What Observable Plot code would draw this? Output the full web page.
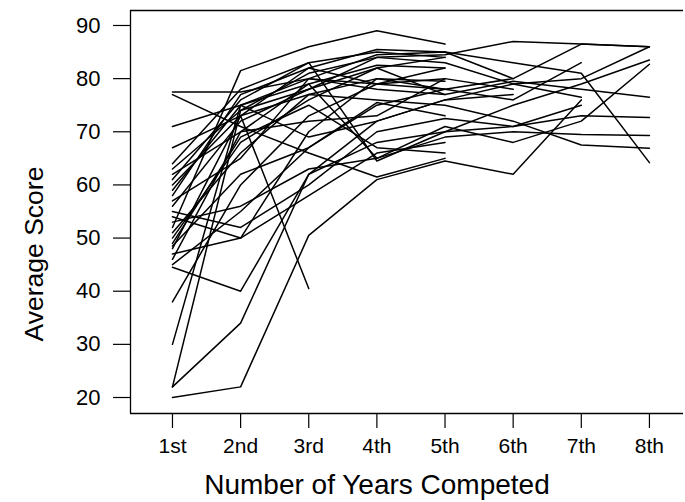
<!DOCTYPE html>
<html>
<head>
<meta charset="utf-8">
<script src="https://cdn.jsdelivr.net/npm/d3@7"></script>
<script src="https://cdn.jsdelivr.net/npm/@observablehq/plot@0.6"></script>
<style>
  html, body { margin: 0; padding: 0; background: #fff; }
  #chart svg { display: block; }
</style>
</head>
<body>
<div id="chart"></div>
<script>
// Tick labels
const yearLabels = ["1st", "2nd", "3rd", "4th", "5th", "6th", "7th", "8th"];
const scoreTicks = [20, 30, 40, 50, 60, 70, 80, 90];

// Average score per competitor, one list per competitor, by year competed
const scores = [
  [20, 22, 50.5, 61, 64.5, 62, 76],
  [22, 34, 62, 72, 76, 79, 80, 86],
  [22, 74, 78, 82, 77],
  [30, 75, 80, 84.5, 85, 83, 81, 64.2],
  [38, 60, 73, 79, 82],
  [44.5, 40, 62, 68, 70, 71, 73, 72.7],
  [45, 55, 67, 75, 78, 80, 86.5, 86],
  [47, 50, 70, 80, 78],
  [48, 73, 40.5],
  [49, 69, 75, 67, 66],
  [50, 68, 76, 82, 84],
  [52, 81.5, 86, 89, 86.5],
  [53, 56, 63, 65, 69, 70, 69.5, 69.3],
  [55, 52, 60, 70, 72.5, 71, 75],
  [56, 72, 78, 84, 84.5, 87, 86.5, 86],
  [57, 65, 80, 78, 77, 79.5, 78, 76.5],
  [59, 75, 79, 65, 71, 68, 72, 82.7],
  [60, 73, 82, 79, 78, 76, 83],
  [61, 76, 83, 64.5, 70, 75, 79, 83.5],
  [62, 70, 72, 73, 80, 78],
  [64, 78, 83, 85, 84],
  [67, 73, 77, 76, 75, 72, 67.5, 66.9],
  [71, 75, 69, 72, 76, 77],
  [77.5, 77.5, 80, 79, 80],
  [77, 71, 66, 61.5, 65],
  [48.5, 62, 67, 75.5, 73],
  [54, 50, 58, 66, 68],
  [58, 77, 82, 85.5, 85, 80],
  [63, 74, 81, 84, 83, 79, 76.5],
  [51, 66, 77, 80, 79.5],
  [46, 70, 79, 82.5, 82]
];

const rows = scores.flatMap((s, i) => s.map((v, j) => ({athlete: i, year: j + 1, score: v})));

const xDomain = [0.384, 8.5];
const yDomain = [16.99, 92.82];
const font = "Liberation Sans, Arial, Helvetica, sans-serif";

const chart = Plot.plot({
  width: 685,
  height: 502,
  marginLeft: 130,
  marginRight: 2,
  marginTop: 10,
  marginBottom: 89,
  style: {fontFamily: font, background: "#fff", color: "#000"},
  x: {domain: xDomain},
  y: {domain: yDomain},
  marks: [
    Plot.line(rows, {x: "year", y: "score", z: "athlete", stroke: "#000", strokeWidth: 1.5, curve: "linear"}),
    Plot.ruleY([yDomain[0], yDomain[1]], {stroke: "#000", strokeWidth: 1.3}),
    Plot.ruleX([xDomain[0]], {stroke: "#000", strokeWidth: 1.3}),
    Plot.axisY(scoreTicks, {anchor: "left", tickSize: 17, tickPadding: 13, fontSize: 22, label: null, strokeWidth: 1.2}),
    Plot.axisX([1, 2, 3, 4, 5, 6, 7, 8], {anchor: "bottom", tickSize: 15, tickPadding: 10, fontSize: 21, label: null,
      tickFormat: (d) => yearLabels[d - 1], strokeWidth: 1.2}),
    Plot.text(["Average Score"], {frameAnchor: "left", rotate: -90, dx: -96, dy: 42, fontSize: 26.5, lineAnchor: "middle", textAnchor: "middle", fill: "#000"}),
    Plot.text(["Number of Years Competed"], {frameAnchor: "bottom", dx: -30, dy: 72, fontSize: 28, lineAnchor: "middle", textAnchor: "middle", fill: "#000"})
  ]
});
document.getElementById("chart").appendChild(chart);
</script>
</body>
</html>
